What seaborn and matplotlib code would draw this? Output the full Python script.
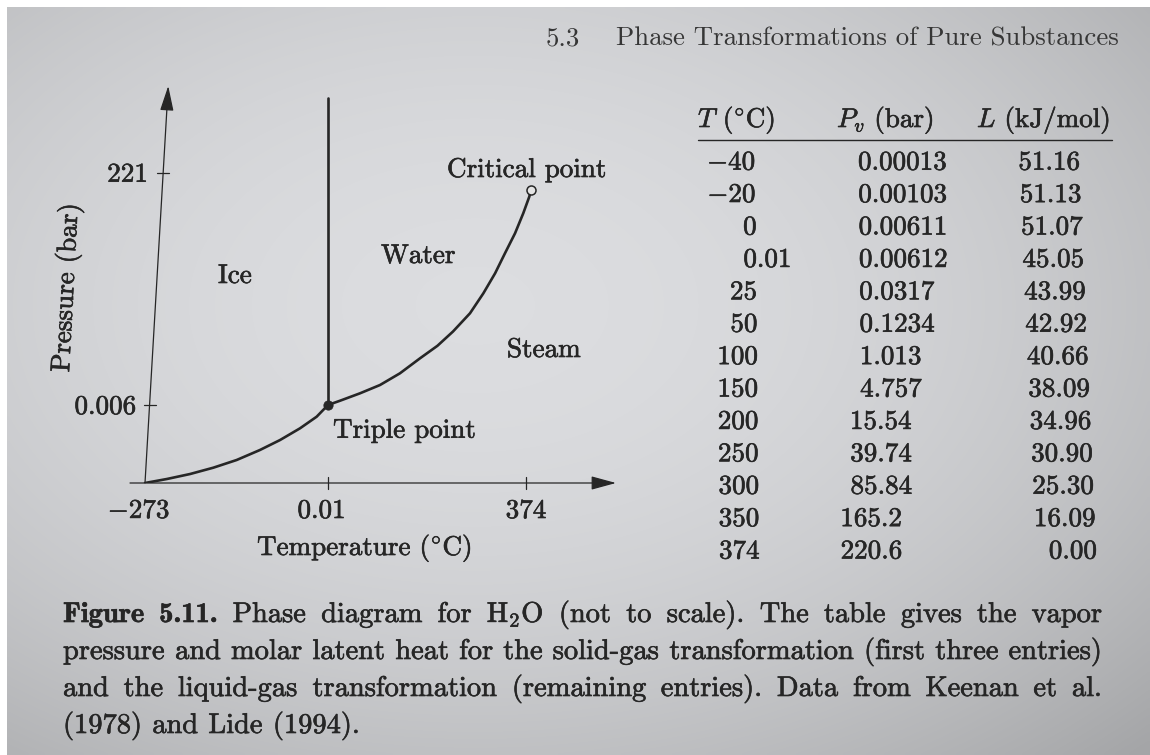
import numpy as np
import pandas as pd
import matplotlib
matplotlib.use("Agg")
from matplotlib import pyplot as plt
from matplotlib.colors import LinearSegmentedColormap
import matplotlib.patheffects as pe
import seaborn as sns


# ---- Data --------------------------------------------------------------------

# table: vapor pressure and molar latent heat of H2O
temps = ["-40", "-20", "0", "0.01", "25", "50", "100", "150", "200", "250", "300", "350", "374"]
pressures = ["0.00013", "0.00103", "0.00611", "0.00612", "0.0317", "0.1234", "1.013",
             "4.757", "15.54", "39.74", "85.84", "165.2", "220.6"]
latent_heats = ["51.16", "51.13", "51.07", "45.05", "43.99", "42.92", "40.66",
                "38.09", "34.96", "30.90", "25.30", "16.09", "0.00"]

# schematic phase diagram (not to scale), read off in diagram units:
# T = -273 -> 0, triple point (0.01, 0.006) -> (1, 1)
temp_ticks = ["-273", "0.01", "374"]
pressure_ticks = ["0.006", "221"]
sublimation_x = [0.0, 0.119, 0.246, 0.373, 0.501, 0.628, 0.738, 0.847, 0.938, 1.0]
sublimation_y = [0.0, 0.051, 0.115, 0.196, 0.295, 0.423, 0.551, 0.701, 0.850, 1.0]
vaporization_x = [1.0, 1.066, 1.175, 1.284, 1.393, 1.503, 1.598, 1.683, 1.776, 1.849,
                  1.913, 1.967, 2.022, 2.067, 2.100, 2.109]
vaporization_y = [1.0, 1.055, 1.150, 1.256, 1.406, 1.599, 1.759, 1.942, 2.176, 2.432,
                  2.688, 2.945, 3.201, 3.458, 3.671, 3.756]
melting_x = [1.0, 1.0]
melting_y = [1.0, 4.93]


# ---- Layout ------------------------------------------------------------------

W, H = 1150, 755
INK = "#262626"
UX, UY = 183.0, 78.0            # pixels per diagram unit
X0, Y0 = 145.0, 483.0           # pixel of diagram origin
DIAG_FS = 19.5
TABLE_FS = 19.5
CAP_FS = 20.5
TEMP_TICK_POS = [0.0, 1.0, 2.082]
PRESS_TICK_POS = [1.0, 3.98]
Y_AXIS_TOP = (0.127, 5.09)
INKED = [pe.withStroke(linewidth=0.45, foreground=INK)]
DEG_C = r"$(^{\circ}\mathrm{C})$"


def px(x, y):
    return x / W, 1 - y / H


def to_data(x, y):
    return (x - X0) / UX, (Y0 - y) / UY


def tex_minus(s):
    return s.replace("-", "$-$")


sns.set_theme(style="white")
plt.rcParams["font.family"] = ["cmr10", "DejaVu Serif"]
plt.rcParams["mathtext.fontset"] = "cm"
plt.rcParams["axes.unicode_minus"] = False

fig = plt.figure(figsize=(W / 100, H / 100), dpi=100, facecolor="white")

# ---- Page background (photo shading) -----------------------------------------

bg = fig.add_axes([7 / W, 0, 1 - 7 / W, 1 - 7 / H])
bg.axis("off")
yy, xx = np.mgrid[0:H:4, 0:W:4]
shade = ((xx - 470) / W) ** 2 + ((yy - 300) / H) ** 2
page_cmap = LinearSegmentedColormap.from_list("page", ["#dcdde0", "#a4a5a7"])
bg.imshow(shade, cmap=page_cmap, vmin=0, vmax=0.7, aspect="auto", interpolation="bilinear")

# ---- Phase diagram -----------------------------------------------------------

ax = fig.add_axes([130 / W, (H - 483) / H, 486 / W, 397 / H])
ax.set_xlim((130 - X0) / UX, (616 - X0) / UX)
ax.set_ylim(0, 397 / UY)
ax.axis("off")
ax.patch.set_alpha(0)

arrow = dict(arrowstyle="-|>,head_length=0.55,head_width=0.15", color=INK, lw=0.9,
             mutation_scale=28, shrinkA=0, shrinkB=0)
ax.annotate("", xy=((616 - X0) / UX, 0), xytext=((130 - X0) / UX, 0),
            arrowprops=arrow, annotation_clip=False)
ax.annotate("", xy=Y_AXIS_TOP, xytext=(0, 0), arrowprops=arrow, annotation_clip=False)

sub = pd.DataFrame({"x": sublimation_x, "y": sublimation_y})
vap = pd.DataFrame({"x": vaporization_x, "y": vaporization_y})
melt = pd.DataFrame({"x": melting_x, "y": melting_y})
for df in (sub, vap, melt):
    sns.lineplot(data=df, x="x", y="y", ax=ax, color=INK, lw=1.9, sort=False,
                 estimator=None, solid_capstyle="round", solid_joinstyle="round")

sns.scatterplot(x=[sublimation_x[-1]], y=[sublimation_y[-1]], ax=ax, s=45, color=INK,
                edgecolor=INK, zorder=5)
ax.plot(vaporization_x[-1], vaporization_y[-1], "o", ms=6.5, mfc="#e4e4e4",
        mec=INK, mew=1.1, zorder=5)

# ticks
for xt in TEMP_TICK_POS[1:]:
    ax.plot([xt, xt], [-6 / UY, 6 / UY], color=INK, lw=0.9, clip_on=False)
for yt in PRESS_TICK_POS:
    xa = Y_AXIS_TOP[0] * yt / Y_AXIS_TOP[1]
    ax.plot([xa - 6 / UX, xa + 6 / UX], [yt, yt], color=INK, lw=0.9, clip_on=False)

for label, cx in zip(temp_ticks, [139, 321.5, 526]):
    ax.text(*to_data(cx, 518), tex_minus(label), ha="center", va="baseline",
            fontsize=DIAG_FS, color=INK, path_effects=INKED)
for label, rx, by in zip(pressure_ticks, [136, 148], [414, 181.7]):
    ax.text(*to_data(rx, by), label, ha="right", va="baseline", fontsize=DIAG_FS,
            color=INK, path_effects=INKED)

ax.text(*to_data(257, 555), "Temperature " + DEG_C, ha="left", va="baseline",
        fontsize=DIAG_FS, color=INK, path_effects=INKED)
ax.text(*to_data(73.4, 288), "Pressure (bar)", ha="center", va="baseline",
        rotation=87, rotation_mode="anchor", fontsize=DIAG_FS, color=INK, path_effects=INKED)

region_labels = ["Ice", "Water", "Steam", "Critical point", "Triple point"]
for label, lx, by in zip(region_labels, [218, 381, 507, 447, 333], [283, 263, 357, 177, 437.7]):
    ax.text(*to_data(lx, by), label, ha="left", va="baseline", fontsize=DIAG_FS,
            color=INK, path_effects=INKED)

# ---- Table -------------------------------------------------------------------

headers = [r"$T$ " + DEG_C, r"$P_v$ (bar)", r"$L$ (kJ/mol)"]
for h, hx in zip(headers, [698, 837, 977]):
    fig.text(*px(hx, 127), h, ha="left", va="baseline", fontsize=TABLE_FS, color=INK,
             path_effects=INKED)
fig.add_artist(plt.Line2D([698 / W, 1112 / W], [1 - 140 / H, 1 - 140 / H],
                          color=INK, lw=1.0, transform=fig.transFigure))

ROW0, STEP = 169.7, 32.4
cell = dict(va="baseline", fontsize=TABLE_FS, color=INK, path_effects=INKED)
for i, (t, p, l) in enumerate(zip(temps, pressures, latent_heats)):
    yb = ROW0 + i * STEP
    whole, dot, frac = t.partition(".")
    xt = 756 + 0.3 * i
    fig.text(*px(xt, yb), tex_minus(whole), ha="right", **cell)
    if dot:
        fig.text(*px(xt, yb), "." + frac, ha="left", **cell)
    n_int = len(p.split(".")[0])
    fig.text(*px(858 + 0.3 * i - 10.5 * (n_int - 1), yb), p, ha="left", **cell)
    fig.text(*px(1080 + 1.4 * i, yb), l, ha="right", **cell)

# ---- Running head ------------------------------------------------------------

fig.text(*px(546, 46), "5.3", ha="left", va="baseline", fontsize=19.3, color="#363636")
fig.text(*px(616, 46), "Phase Transformations of Pure Substances", ha="left",
         va="baseline", fontsize=19.3, color="#363636")

# ---- Caption (justified) -----------------------------------------------------

caption_lines = [
    "Figure 5.11. Phase diagram for H$_2$O (not to scale). The table gives the vapor",
    "pressure and molar latent heat for the solid-gas transformation (first three entries)",
    "and the liquid-gas transformation (remaining entries). Data from Keenan et al.",
    "(1978) and Lide (1994).",
]
CAP_X0, CAP_X1 = 63, 1102
CAP_Y0, CAP_STEP = 622, 37

renderer = fig.canvas.get_renderer()
for i, line in enumerate(caption_lines):
    words = line.split(" ")
    arts = []
    for j, w in enumerate(words):
        fam = ["cmb10", "DejaVu Serif"] if (i == 0 and j < 2) else ["cmr10", "DejaVu Serif"]
        arts.append(fig.text(0, 0, w, family=fam, fontsize=CAP_FS, color=INK,
                             va="baseline", path_effects=INKED))
    widths = [a.get_window_extent(renderer).width for a in arts]
    if i < len(caption_lines) - 1:
        gap = (CAP_X1 - CAP_X0 - sum(widths)) / (len(words) - 1)
    else:
        gap = 0.36 * CAP_FS * 100 / 72
    x = CAP_X0
    for a, w in zip(arts, widths):
        a.set_position(px(x, CAP_Y0 + i * CAP_STEP))
        x += w + gap

fig.savefig("out.png", dpi=100)
